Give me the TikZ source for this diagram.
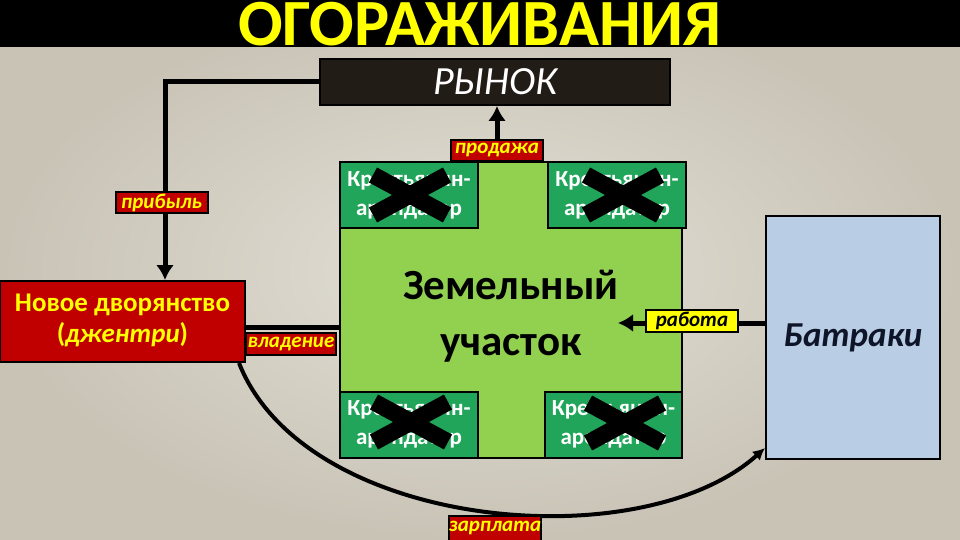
\documentclass[tikz,border=0pt]{standalone}
\usepackage{fontspec}
\setmainfont{Carlito}
\usetikzlibrary{arrows.meta,shapes}
\definecolor{tagred}{HTML}{C00000}
\definecolor{titleyel}{HTML}{FFFF00}
\definecolor{mktbrown}{HTML}{221C17}
\definecolor{ltgreen}{HTML}{92D050}
\definecolor{dkgreen}{HTML}{20A55A}
\definecolor{ltblue}{HTML}{B9CDE5}
\definecolor{navy}{HTML}{0F1528}
\definecolor{bgin}{HTML}{E3E0D7}
\definecolor{bgout}{HTML}{C8C3B5}
\begin{document}
\begin{tikzpicture}[x=1pt, y=-1pt, >={Latex[length=15pt,width=18pt]},
  box/.style={draw, line width=2pt, inner sep=0pt},
  tag/.style={box, fill=tagred, text=titleyel, font=\bfseries\itshape\fontsize{21}{21}\selectfont, minimum width=92pt, minimum height=21pt},
  tenant/.style={box, fill=dkgreen, text=white, font=\bfseries\fontsize{23}{29}\selectfont, align=center, minimum width=138pt, minimum height=66pt},
  conn/.style={line width=5pt},
  cross/.style={line width=17pt}]
\useasboundingbox (0,0) rectangle (960,540);
\clip (0,0) rectangle (960,540);
\shade[inner color=bgin, outer color=bgout] (0,0) rectangle (960,540);
\fill[black] (0,0) rectangle (960,47);
\node (title) at (480,46) [anchor=base, text=titleyel, font=\bfseries\fontsize{66}{66}\selectfont] {ОГОРАЖИВАНИЯ};

% market, land and the two groups
\node (market) at (495,82) [box, fill=mktbrown, minimum width=350pt, minimum height=46pt, text=white, font=\itshape\fontsize{40}{40}\selectfont] {РЫНОК};
\node (land) at (511,310) [box, fill=ltgreen, minimum width=342pt, minimum height=296pt] {};
\node (landtxt) at (511,316) [align=center, font=\bfseries\fontsize{43}{56}\selectfont] {Земельный\\участок};
\node (gentry) at (122.5,321.5) [box, fill=tagred, text=titleyel, minimum width=245pt, minimum height=81pt, align=center, text depth=6pt, font=\bfseries\fontsize{27}{31}\selectfont] {Новое дворянство\\(\textit{джентри})};
\node (batr) at (853,337.5) [box, fill=ltblue, minimum width=174pt, minimum height=243pt, text=navy, font=\bfseries\itshape\fontsize{35}{35}\selectfont] {Батраки};

% tenants, crossed out
\node (tenA) at (409,195) [tenant] {Крестьянин-\\арендатор};
\node (tenB) at (617,195) [tenant] {Крестьянин-\\арендатор};
\node (tenC) at (409,424.5) [tenant] {Крестьянин-\\арендатор};
\node (tenD) at (613.5,424.5) [tenant, minimum width=137pt] {Крестьянин-\\арендатор};
\foreach \cx/\cy in {410/195, 623/195, 411/422, 625/423}{
  \draw[cross] (\cx-37,\cy-20) -- (\cx+37,\cy+20);
  \draw[cross] (\cx-37,\cy+20) -- (\cx+37,\cy-20);
}

% flows
\coordinate (worktip) at (618,323);
\draw[conn,->] ([xshift=-14pt]land.north) -- ([xshift=2pt]market.south);
\draw[conn,->] (market.west) -| ([xshift=42.5pt]gentry.north);
\draw[conn] ([yshift=-5.5pt]gentry.east) -- ([yshift=-5.5pt]gentry.east -| land.west);
\draw[conn,->] (batr.west |- worktip) -- (worktip);
\draw[line width=4pt,-{Latex[length=12pt,width=12pt]}] ([xshift=-7pt]gentry.south east) .. controls (305,530) and (640,560) .. ([yshift=12pt]batr.south west);

% labels
\node (sale) at (497,150.5) [tag] {продажа};
\node (profit) at (161.5,202.5) [tag] {прибыль};
\node (own) at (291,344) [tag, minimum width=90pt, minimum height=22pt] {владение};
\node (work) at (692,321) [tag, fill=titleyel, text=black, minimum height=22pt] {работа};
\node (wage) at (495,528) [tag, minimum height=25pt] {зарплата};
\end{tikzpicture}
\end{document}
